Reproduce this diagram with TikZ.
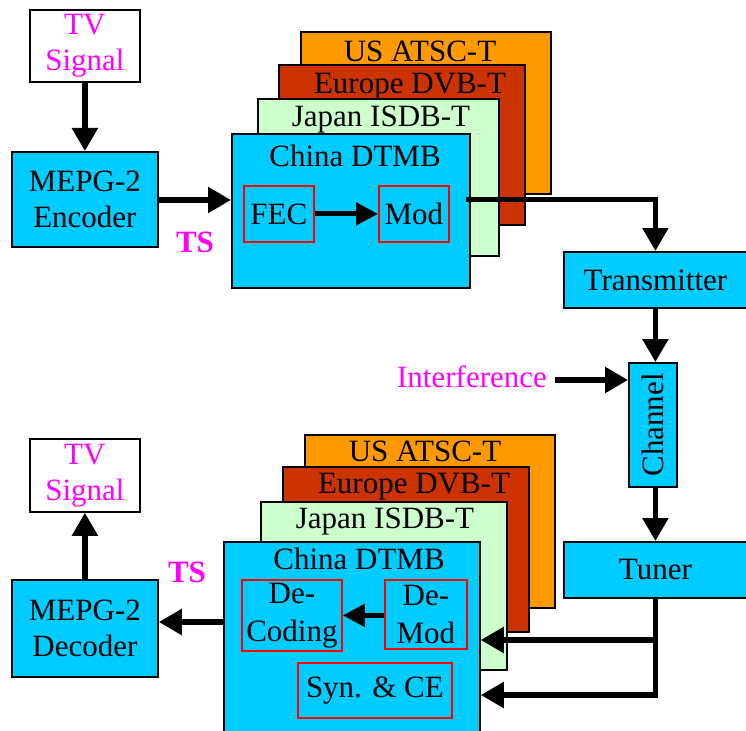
\documentclass[tikz,border=0pt]{standalone}
\usepackage{fontspec}
\setmainfont{Liberation Serif}
\usetikzlibrary{arrows.meta}
\definecolor{blockcyan}{HTML}{00CCFF}
\definecolor{usorange}{HTML}{FF9900}
\definecolor{eurust}{HTML}{CC3300}
\definecolor{jpgreen}{HTML}{CCFFCC}
\definecolor{sigmag}{HTML}{FF00FF}
\definecolor{subred}{HTML}{FF0000}
\tikzset{
  txt/.style={font=\fontsize{31}{36}\selectfont, inner sep=0pt},
  blk/.style={txt, draw=black, line width=1.8pt, anchor=north west, align=center},
  cyanblk/.style={blk, fill=blockcyan},
  whiteblk/.style={blk, fill=white, text=sigmag},
  usblk/.style={blk, fill=usorange},
  eublk/.style={blk, fill=eurust},
  jpblk/.style={blk, fill=jpgreen},
  subblk/.style={txt, draw=subred, line width=1.8pt, anchor=north west, align=center,
                 font=\fontsize{31}{38}\selectfont},
  title/.style={txt, anchor=base},
  tslabel/.style={txt, anchor=base, text=sigmag, font=\fontsize{31}{36}\selectfont\bfseries},
  arr/.style={line width=5.4pt, -{Triangle[length=23pt,width=25pt]}},
  thinarr/.style={line width=5pt, -{Triangle[length=22pt,width=22pt]}},
}
\begin{document}
\begin{tikzpicture}[x=1pt,y=-1pt]
\useasboundingbox (0,0) rectangle (746,730);

% ---------------- transmitter side ----------------
\node[whiteblk, minimum width=110pt, minimum height=72pt] (tvin) at (29,9) {TV\\Signal};
\node[cyanblk, minimum width=146pt, minimum height=95pt] (enc) at (11,151) {MEPG-2\\Encoder};

% stacked standards (back to front)
\node[usblk, minimum width=250pt, minimum height=162pt] (usT) at (300,31) {};
\node[eublk, minimum width=246pt, minimum height=160pt] (euT) at (278,64) {};
\node[jpblk, minimum width=241pt, minimum height=157pt] (jpT) at (257,98) {};
\node[cyanblk, minimum width=238pt, minimum height=154pt] (cnT) at (231,133) {};
\node[title] (usTt) at (420,62) {US ATSC-T};
\node[title] (euTt) at (410,94) {Europe DVB-T};
\node[title] (jpTt) at (381,127) {Japan ISDB-T};
\node[title] (cnTt) at (355,167) {China DTMB};
\node[subblk, minimum width=70pt, minimum height=56pt] (fec) at (243,185) {FEC};
\node[subblk, minimum width=70pt, minimum height=56pt] (mod) at (378,185) {Mod};

\node[tslabel] (tsT) at (195,252) {TS};

\node[cyanblk, minimum width=183pt, minimum height=56pt] (tx) at (563,251) {Transmitter};
\node[cyanblk, minimum width=48pt, minimum height=124pt] (ch) at (628,362) {};
\node[txt, rotate=90] (chT) at (ch.center) {Channel};
\node[txt, anchor=base, text=sigmag] (intf) at (472,387) {Interference};
\node[cyanblk, minimum width=183pt, minimum height=56pt] (tun) at (563,541) {Tuner};

% ---------------- receiver side ----------------
\node[whiteblk, minimum width=110pt, minimum height=73pt] (tvout) at (29,438) {TV\\Signal};
\node[cyanblk, minimum width=146pt, minimum height=97pt] (dec) at (11,579) {MEPG-2\\Decoder};

\node[usblk, minimum width=250pt, minimum height=173pt] (usB) at (304,434) {};
\node[eublk, minimum width=246pt, minimum height=165pt] (euB) at (282,466) {};
\node[jpblk, minimum width=246pt, minimum height=168pt] (jpB) at (260,501) {};
\node[cyanblk, minimum width=256pt, minimum height=200pt] (cnB) at (223,541) {};
\node[title] (usBt) at (425,461) {US ATSC-T};
\node[title] (euBt) at (414,493) {Europe DVB-T};
\node[title] (jpBt) at (385,528) {Japan ISDB-T};
\node[title] (cnBt) at (359,569) {China DTMB};
\node[subblk, minimum width=100pt, minimum height=71pt] (dcod) at (241,579) {De-\\Coding};
\node[subblk, minimum width=82pt, minimum height=69pt] (dmod) at (384,579) {De-\\Mod};
\node[subblk, minimum width=154pt, minimum height=55pt] (syn) at (297,662) {Syn. \& CE};

\node[tslabel] (tsB) at (187,582) {TS};

% ---------------- connectors ----------------
\coordinate (modout) at (466,199);
\coordinate (yts) at (0,200);
\coordinate (yint) at (0,380);
\coordinate (ydm) at (0,640);
\coordinate (ysyn) at (0,695);
\coordinate (yout) at (0,622);

\draw[arr] (tvin.south) -- (enc.north);
\draw[arr] (enc.east |- yts) -- (cnT.west |- yts);
\draw[thinarr] (fec.east) -- (mod.west);
\draw[arr, line width=5pt] (modout) -| (tx.north);
\draw[arr] (tx.south) -- (tx.south |- ch.north);
\draw[arr, shorten <=8pt] (intf.east |- yint) -- (ch.west |- yint);
\draw[arr] (ch.south -| tun.north) -- (tun.north);

\draw[arr] (tun.south) |- (cnB.east |- ysyn);
\draw[arr] (tun.south |- ydm) -- (cnB.east |- ydm);
\draw[thinarr] (dmod.west |- dcod.east) -- (dcod.east);
\draw[arr] (cnB.west |- yout) -- (dec.east |- yout);
\draw[arr] (dec.north) -- (tvout.south);
\end{tikzpicture}
\end{document}
